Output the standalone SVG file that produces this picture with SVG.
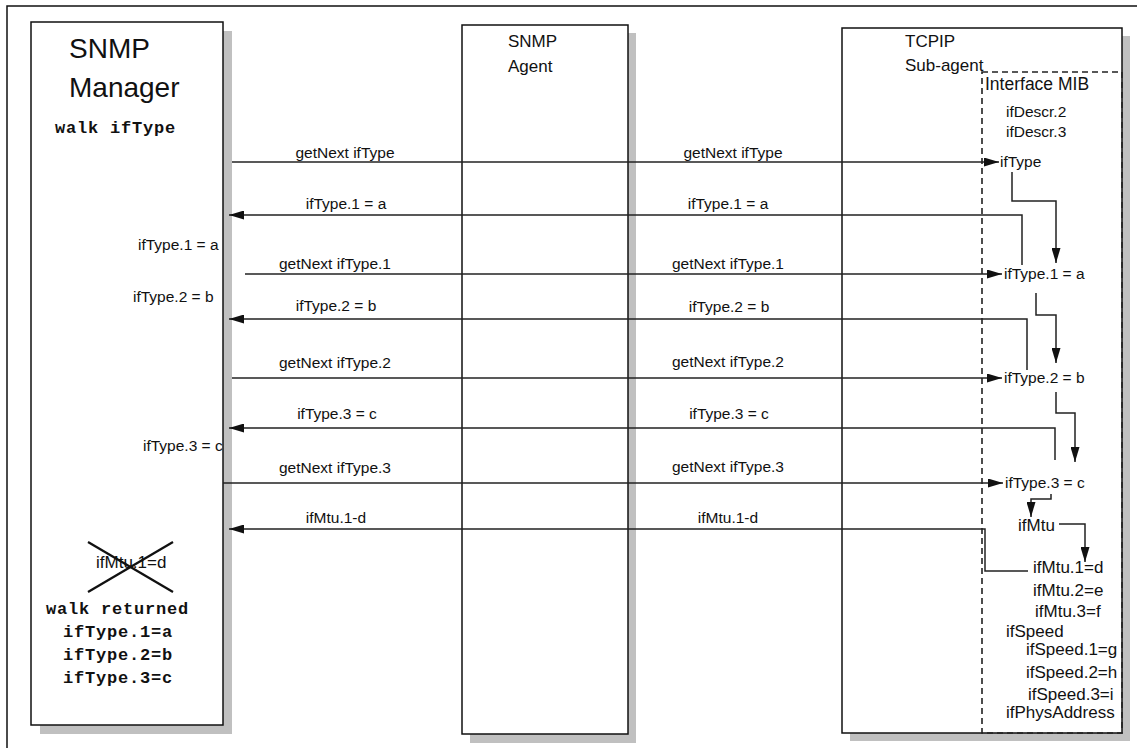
<svg xmlns="http://www.w3.org/2000/svg" width="1137" height="748" viewBox="0 0 1137 748">
<style>
.sh{fill:#c0c0c0;stroke:none}
.box{fill:#fff;stroke:#111;stroke-width:1.5}
.dash{fill:none;stroke:#222;stroke-width:1.6;stroke-dasharray:6 4}
.ln{fill:none;stroke:#222;stroke-width:1.5}
.arr{fill:none;stroke:#222;stroke-width:1.5;marker-end:url(#ah)}
.t{font-family:"Liberation Sans",Arial,sans-serif;font-size:15.5px;fill:#111}
.m{font-size:17px}
.big{font-family:"Liberation Sans",Arial,sans-serif;font-size:28px;fill:#111}
.hd{font-family:"Liberation Sans",Arial,sans-serif;font-size:17px;fill:#111}
.mono{font-family:"Liberation Mono","Courier New",monospace;font-size:17px;font-weight:bold;letter-spacing:0.8px;fill:#111}
.c{text-anchor:middle}
</style>
<defs>
<marker id="ah" markerUnits="userSpaceOnUse" markerWidth="15" markerHeight="9" refX="15" refY="4.5" orient="auto">
<path d="M0,0 L15,4.5 L0,9 z" fill="#111"/>
</marker>
</defs>
<rect x="7" y="6" width="1140" height="750" fill="#fff" stroke="#111" stroke-width="1.5"/>

<g id="manager">
<rect class="sh" x="40" y="31" width="192" height="703"/>
<rect class="box" x="31" y="22" width="192" height="703"/>
<text class="big" x="69" y="58">SNMP</text>
<text class="big" x="69" y="97">Manager</text>
<text class="mono" x="55" y="133">walk ifType</text>
<text class="t" x="138" y="250">ifType.1 = a</text>
<text class="t" x="133" y="302">ifType.2 = b</text>
<text class="t" x="143" y="451">ifType.3 = c</text>
<text class="t m" x="96" y="568">ifMtu.1=d</text>
<line x1="88" y1="542" x2="173" y2="592" stroke="#111" stroke-width="2.3"/>
<line x1="88" y1="592" x2="173" y2="542" stroke="#111" stroke-width="2.3"/>
<text class="mono" x="46" y="614">walk returned</text>
<text class="mono" x="63" y="637">ifType.1=a</text>
<text class="mono" x="63" y="660">ifType.2=b</text>
<text class="mono" x="63" y="683">ifType.3=c</text>
</g>

<g id="agent">
<rect class="sh" x="470" y="33" width="166" height="710"/>
<rect class="box" x="462" y="25" width="166" height="709"/>
<text class="hd" x="508" y="47">SNMP</text>
<text class="hd" x="508" y="72">Agent</text>
</g>

<g id="subagent">
<rect class="sh" x="850" y="36" width="280" height="705"/>
<rect class="box" x="842" y="28" width="280" height="705"/>
<text class="hd" x="905" y="47">TCPIP</text>
<text class="hd" x="905" y="71">Sub-agent</text>
</g>

<g id="mib">
<rect class="dash" x="982" y="72" width="140" height="661"/>
<text class="hd" x="985" y="90" style="font-size:17.5px">Interface MIB</text>
<text class="t" x="1006" y="117">ifDescr.2</text>
<text class="t" x="1006" y="137">ifDescr.3</text>
<text class="t" x="1000" y="167">ifType</text>
<text class="t" x="1004" y="279">ifType.1 = a</text>
<text class="t" x="1004" y="383">ifType.2 = b</text>
<text class="t" x="1005" y="488">ifType.3 = c</text>
<text class="t m" x="1018" y="531">ifMtu</text>
<text class="t m" x="1033" y="573">ifMtu.1=d</text>
<text class="t m" x="1033" y="596">ifMtu.2=e</text>
<text class="t m" x="1035" y="617">ifMtu.3=f</text>
<text class="t m" x="1006" y="637">ifSpeed</text>
<text class="t m" x="1026" y="655">ifSpeed.1=g</text>
<text class="t m" x="1026" y="678">ifSpeed.2=h</text>
<text class="t m" x="1028" y="700">ifSpeed.3=i</text>
<text class="t m" x="1006" y="718">ifPhysAddress</text>
</g>

<g id="connectors">
<path class="arr" d="M232,162 L999,162"/>
<path class="arr" d="M1022,265 L1022,215 L229,215"/>
<path class="arr" d="M245,274 L1002,274"/>
<path class="arr" d="M1027,370 L1027,319 L229,319"/>
<path class="arr" d="M232,378 L1002,378"/>
<path class="arr" d="M1055,460 L1055,428 L229,428"/>
<path class="arr" d="M223,483 L1003,483"/>
<path class="arr" d="M1028,571 L985,571 L985,529 L229,529"/>
<path class="arr" d="M1012,172 L1012,201 L1056,201 L1056,263"/>
<path class="arr" d="M1036,293 L1036,315 L1056,315 L1056,363"/>
<path class="arr" d="M1056,392 L1056,413 L1075,413 L1075,462"/>
<path class="arr" d="M1051,494 L1051,499 L1031,499 L1031,517"/>
<path class="arr" d="M1059,524 L1085,524 L1085,562"/>
<text class="t c" x="345" y="158">getNext ifType</text>
<text class="t c" x="733" y="158">getNext ifType</text>
<text class="t c" x="346" y="209">ifType.1 = a</text>
<text class="t c" x="728" y="209">ifType.1 = a</text>
<text class="t c" x="335" y="269">getNext ifType.1</text>
<text class="t c" x="728" y="269">getNext ifType.1</text>
<text class="t c" x="336" y="311">ifType.2 = b</text>
<text class="t c" x="729" y="312">ifType.2 = b</text>
<text class="t c" x="335" y="368">getNext ifType.2</text>
<text class="t c" x="728" y="367">getNext ifType.2</text>
<text class="t c" x="337" y="419">ifType.3 = c</text>
<text class="t c" x="729" y="419">ifType.3 = c</text>
<text class="t c" x="335" y="473">getNext ifType.3</text>
<text class="t c" x="728" y="472">getNext ifType.3</text>
<text class="t c" x="336" y="523">ifMtu.1-d</text>
<text class="t c" x="728" y="523">ifMtu.1-d</text>
</g>
</svg>
